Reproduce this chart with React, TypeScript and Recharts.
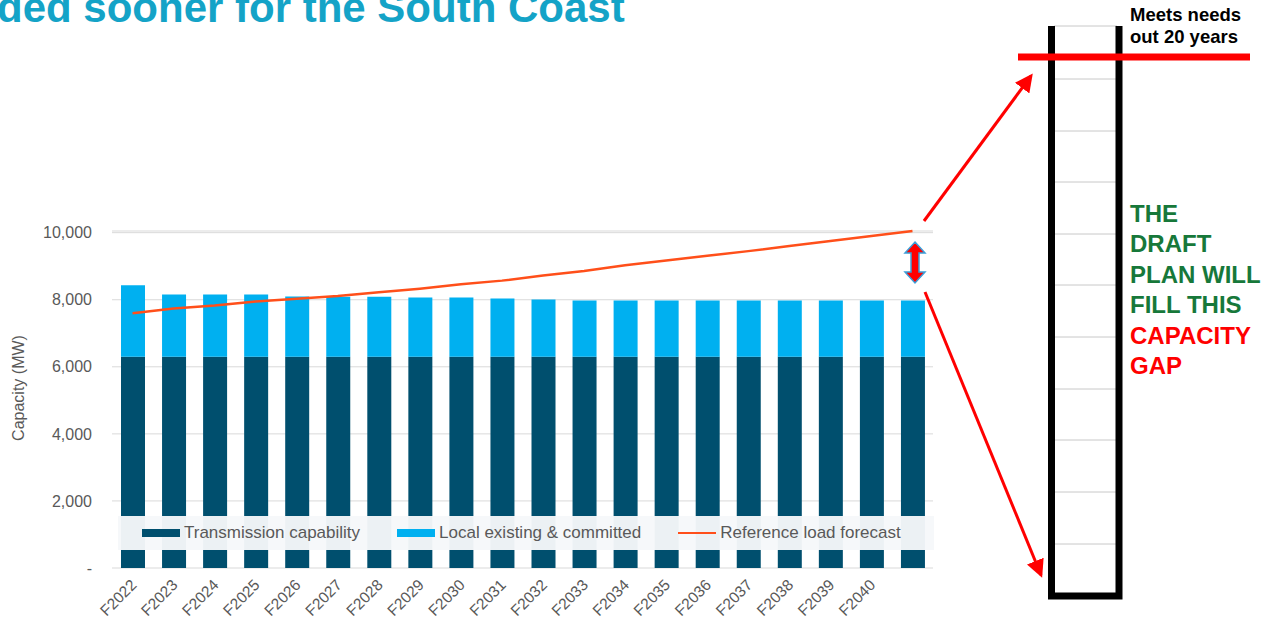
import React from 'react';
import { ComposedChart, Bar, Line, XAxis, YAxis, CartesianGrid, Legend } from 'recharts';

const years = [
  'F2022', 'F2023', 'F2024', 'F2025', 'F2026', 'F2027', 'F2028', 'F2029', 'F2030', 'F2031',
  'F2032', 'F2033', 'F2034', 'F2035', 'F2036', 'F2037', 'F2038', 'F2039', 'F2040', '',
];
const transmission = [
  6300, 6300, 6300, 6300, 6300, 6300, 6300, 6300, 6300, 6300,
  6300, 6300, 6300, 6300, 6300, 6300, 6300, 6300, 6300, 6300,
];
const localCommitted = [
  2130, 1860, 1860, 1860, 1800, 1790, 1790, 1770, 1770, 1740,
  1710, 1680, 1680, 1680, 1680, 1680, 1680, 1680, 1680, 1680,
];
const loadForecast = [
  7600, 7740, 7830, 7950, 8030, 8110, 8220, 8330, 8460, 8570,
  8720, 8860, 9030, 9170, 9310, 9450, 9600, 9750, 9900, 10050,
];
const yTicks = [0, 2000, 4000, 6000, 8000, 10000];

const data = years.map((year, i) => ({
  year,
  transmission: transmission[i],
  local: localCommitted[i],
  load: loadForecast[i],
}));

const FONT = '"Liberation Sans", Arial, sans-serif';
const DARK = '#004F6E';
const LIGHT = '#00B0F0';
const ORANGE = '#FF4F1A';
const AXIS_TEXT = '#595959';

const legendItems = [
  { label: 'Transmission capability', color: DARK, kind: 'box' },
  { label: 'Local existing & committed', color: LIGHT, kind: 'box' },
  { label: 'Reference load forecast', color: ORANGE, kind: 'line' },
];

function ChartLegend() {
  return (
    <div
      style={{
        display: 'flex',
        alignItems: 'center',
        height: 34,
        width: 816,
        paddingLeft: 24,
        boxSizing: 'border-box',
        whiteSpace: 'nowrap',
        fontFamily: FONT,
        fontSize: 17,
        color: AXIS_TEXT,
      }}
    >
      {legendItems.map((it) => (
        <div key={it.label} style={{ display: 'flex', alignItems: 'center', flexShrink: 0, marginRight: 37 }}>
          <span
            style={{
              display: 'inline-block',
              width: 38,
              height: it.kind === 'box' ? 8 : 2.5,
              background: it.color,
              marginRight: 4,
            }}
          />
          <span>{it.label}</span>
        </div>
      ))}
    </div>
  );
}

function YearTick({ x, y, payload }: any) {
  const tx = x + 5;
  const ty = y + 10;
  return (
    <text
      x={tx}
      y={ty}
      textAnchor="end"
      fill={AXIS_TEXT}
      fontSize={15.5}
      fontFamily={FONT}
      transform={`rotate(-45, ${tx}, ${ty})`}
    >
      {payload.value}
    </text>
  );
}

function YTitle() {
  return (
    <text
      x={24}
      y={388}
      textAnchor="middle"
      fill={AXIS_TEXT}
      fontSize={16}
      fontFamily={FONT}
      transform="rotate(-90, 24, 388)"
    >
      Capacity (MW)
    </text>
  );
}

function Annotations() {
  const boxLines = [79, 131, 182, 234, 285, 337, 389, 440, 492, 544];
  return (
    <svg width={1266} height={628} style={{ position: 'absolute', left: 0, top: 0, pointerEvents: 'none' }}>
      <defs>
        <marker id="head" markerWidth="6" markerHeight="6" refX="5" refY="3" orient="auto" markerUnits="strokeWidth">
          <path d="M0,0 L6,3 L0,6 z" fill="#FF0000" />
        </marker>
      </defs>
      <text x={-3} y={22} fontFamily={FONT} fontWeight="bold" fontSize={42} fill="#14A3C7">
        ded sooner for the South Coast
      </text>

      {/* gap arrow */}
      <polygon
        points="915,242 925,253 919,253 919,272 925,272 915,283 905,272 911,272 911,253 905,253"
        fill="#FF0000"
        stroke="#3C9ED8"
        strokeWidth={1.5}
      />
      <line x1={924} y1={221} x2={1031} y2={76} stroke="#FF0000" strokeWidth={3} markerEnd="url(#head)" />
      <line x1={925} y1={292} x2={1041} y2={575} stroke="#FF0000" strokeWidth={3} markerEnd="url(#head)" />

      {/* capacity box */}
      <line x1={1054} y1={26} x2={1117} y2={26} stroke="#C8C8C8" strokeWidth={1} />
      {boxLines.map((y) => (
        <line key={y} x1={1054} y1={y} x2={1117} y2={y} stroke="#C8C8C8" strokeWidth={1} />
      ))}
      <path d="M1051.5,26 L1051.5,596 L1119,596 L1119,26" fill="none" stroke="#000" strokeWidth={7} strokeLinejoin="miter" />
      <line x1={1018} y1={57} x2={1250} y2={57} stroke="#FF0000" strokeWidth={7} />

      <g fontFamily={FONT} fontWeight="bold">
        <text x={1130} y={21} fontSize={18.5} fill="#000">Meets needs</text>
        <text x={1130} y={43} fontSize={18.5} fill="#000">out 20 years</text>
        <g fontSize={24} fill="#17783A">
          <text x={1130} y={222}>THE</text>
          <text x={1130} y={252}>DRAFT</text>
          <text x={1130} y={283}>PLAN WILL</text>
          <text x={1130} y={313}>FILL THIS</text>
        </g>
        <g fontSize={24} fill="#FF0000">
          <text x={1130} y={344}>CAPACITY</text>
          <text x={1130} y={374}>GAP</text>
        </g>
      </g>
    </svg>
  );
}

export default function App() {
  return (
    <div style={{ position: 'absolute', left: 0, top: 0, width: 1266, height: 628, background: '#fff' }}>
      <ComposedChart
        width={1266}
        height={628}
        data={data}
        margin={{ top: 231, right: 333, left: 52, bottom: 0 }}
        barCategoryGap={0}
      >
        <CartesianGrid vertical={false} stroke="#D9D9D9" />
        <XAxis
          dataKey="year"
          interval={0}
          axisLine={false}
          tickLine={false}
          height={60}
          tick={<YearTick />}
        />
        <YAxis
          domain={[0, 10000]}
          ticks={yTicks}
          width={60}
          axisLine={false}
          tickLine={false}
          tickMargin={14}
          tick={{ fill: AXIS_TEXT, fontSize: 16, fontFamily: FONT }}
          tickFormatter={(v: number) => (v === 0 ? '-' : v.toLocaleString('en-US'))}
          label={<YTitle />}
        />
        <Bar dataKey="transmission" stackId="cap" fill={DARK} barSize={24} isAnimationActive={false} />
        <Bar dataKey="local" stackId="cap" fill={LIGHT} barSize={24} isAnimationActive={false} />
        <Line
          dataKey="load"
          type="linear"
          stroke={ORANGE}
          strokeWidth={2.5}
          dot={false}
          isAnimationActive={false}
        />
        <Legend
          layout="horizontal"
          verticalAlign="middle"
          align="center"
          content={<ChartLegend />}
          wrapperStyle={{ left: 118, top: 516, width: 816, height: 34, background: 'rgba(246,248,250,0.96)' }}
        />
      </ComposedChart>
      <Annotations />
    </div>
  );
}
